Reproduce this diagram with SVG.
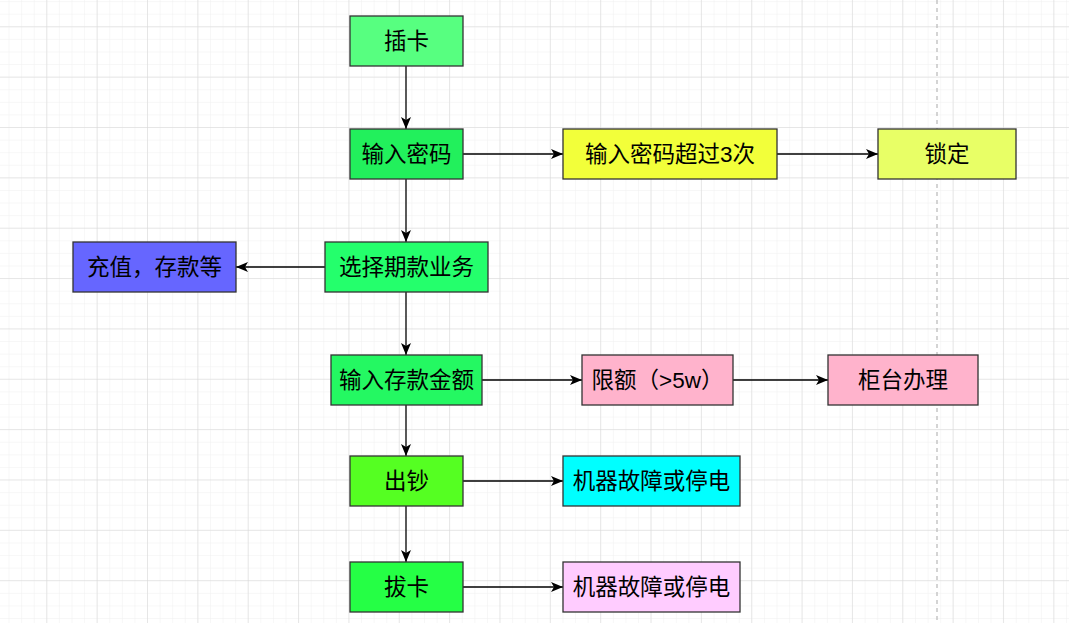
<svg xmlns="http://www.w3.org/2000/svg" width="1069" height="623" viewBox="0 0 1069 623">
  <defs>
    <pattern id="minor" x="-4.05" y="26.3" width="12.59" height="12.59" patternUnits="userSpaceOnUse">
      <path d="M0,0 H12.59 M0,0 V12.59" fill="none" stroke="#efefef" stroke-width="1"/>
    </pattern>
    <pattern id="major" x="-4.05" y="26.3" width="50.35" height="50.35" patternUnits="userSpaceOnUse">
      <path d="M0,0 H50.35 M0,0 V50.35" fill="none" stroke="#d6d6d6" stroke-width="1"/>
    </pattern>
    <marker id="arrow" markerWidth="13" markerHeight="11" refX="12" refY="5.5" orient="auto" markerUnits="userSpaceOnUse">
      <path d="M0,0.5 L12,5.5 L0,10.5 L3,5.5 Z" fill="#000"/>
    </marker>
  </defs>
  <style>
    .node rect { stroke: #333; stroke-width: 1.3; }
    .node text { font-family: "Liberation Sans", "Noto Sans CJK SC", sans-serif; font-size: 22.5px; fill: #000; text-anchor: middle; dominant-baseline: central; }
    .edge { fill: none; stroke: #000; stroke-width: 1.3; marker-end: url(#arrow); }
  </style>
  <rect width="1069" height="623" fill="#ffffff"/>
  <rect width="1069" height="623" fill="url(#minor)"/>
  <rect width="1069" height="623" fill="url(#major)"/>
  <line x1="937" y1="0" x2="937" y2="623" stroke="#bdbdbd" stroke-width="1.3" stroke-dasharray="4,4"/>

  <g id="connectors">
    <path class="edge" d="M406,66 V129"/>
    <path class="edge" d="M463,154 H563"/>
    <path class="edge" d="M777,154 H878"/>
    <path class="edge" d="M406,179 V242"/>
    <path class="edge" d="M325,267 H236"/>
    <path class="edge" d="M406,292 V355"/>
    <path class="edge" d="M482,380 H582"/>
    <path class="edge" d="M733,380 H828"/>
    <path class="edge" d="M406,405 V456"/>
    <path class="edge" d="M463,481 H563"/>
    <path class="edge" d="M406,506 V562"/>
    <path class="edge" d="M463,587 H563"/>
  </g>

  <g id="n-chaka" class="node">
    <rect x="350" y="16" width="113" height="50" fill="#57ff80"/>
    <text x="406.5" y="41">插卡</text>
  </g>
  <g id="n-mima" class="node">
    <rect x="350" y="129" width="113" height="50" fill="#22f05c"/>
    <text x="406.5" y="154">输入密码</text>
  </g>
  <g id="n-chaoguo" class="node">
    <rect x="563" y="129" width="214" height="50" fill="#f2ff3a"/>
    <text x="670" y="154">输入密码超过3次</text>
  </g>
  <g id="n-suoding" class="node">
    <rect x="878" y="129" width="138" height="50" fill="#e8ff66"/>
    <text x="947" y="154">锁定</text>
  </g>
  <g id="n-xuanze" class="node">
    <rect x="325" y="242" width="163" height="50" fill="#24ff6c"/>
    <text x="406.5" y="267">选择期款业务</text>
  </g>
  <g id="n-chongzhi" class="node">
    <rect x="73" y="242" width="163" height="50" fill="#6666ff"/>
    <text x="154.5" y="267">充值，存款等</text>
  </g>
  <g id="n-jine" class="node">
    <rect x="331" y="355" width="151" height="50" fill="#24f862"/>
    <text x="406.5" y="380">输入存款金额</text>
  </g>
  <g id="n-xiane" class="node">
    <rect x="582" y="355" width="151" height="50" fill="#ffb3cc"/>
    <text x="657.5" y="380">限额（&gt;5w）</text>
  </g>
  <g id="n-guitai" class="node">
    <rect x="828" y="355" width="150" height="50" fill="#ffb3cc"/>
    <text x="903" y="380">柜台办理</text>
  </g>
  <g id="n-chuchao" class="node">
    <rect x="350" y="456" width="113" height="50" fill="#55ff22"/>
    <text x="406.5" y="481">出钞</text>
  </g>
  <g id="n-guzhang1" class="node">
    <rect x="563" y="456" width="177" height="50" fill="#00ffff"/>
    <text x="651.5" y="481">机器故障或停电</text>
  </g>
  <g id="n-baka" class="node">
    <rect x="350" y="562" width="113" height="50" fill="#25ff45"/>
    <text x="406.5" y="587">拔卡</text>
  </g>
  <g id="n-guzhang2" class="node">
    <rect x="563" y="562" width="177" height="50" fill="#ffccff"/>
    <text x="651.5" y="587">机器故障或停电</text>
  </g>
</svg>
